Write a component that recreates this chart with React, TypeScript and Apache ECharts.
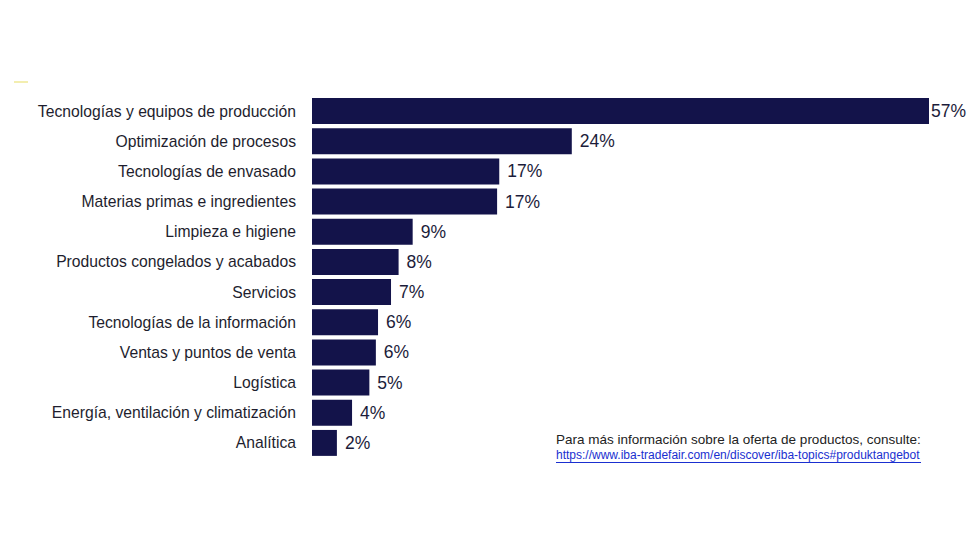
import React, { useEffect, useRef } from "react";
import * as echarts from "echarts";

const categories = [
  "Tecnologías y equipos de producción",
  "Optimización de procesos",
  "Tecnologías de envasado",
  "Materias primas e ingredientes",
  "Limpieza e higiene",
  "Productos congelados y acabados",
  "Servicios",
  "Tecnologías de la información",
  "Ventas y puntos de venta",
  "Logística",
  "Energía, ventilación y climatización",
  "Analítica",
];
const values = [57, 24, 17.3, 17.1, 9.3, 8, 7.3, 6.1, 5.9, 5.3, 3.7, 2.3];
const valueLabels = ["57%", "24%", "17%", "17%", "9%", "8%", "7%", "6%", "6%", "5%", "4%", "2%"];
const noteLine1 = "Para más información sobre la oferta de productos, consulte:";
const noteLine2 = "https://www.iba-tradefair.com/en/discover/iba-topics#produktangebot";

export default function App() {
  const ref = useRef<HTMLDivElement>(null);
  useEffect(() => {
    document.body.style.margin = "0";
    if (!ref.current) return;
    const chart = echarts.init(ref.current, undefined, { renderer: "svg" });
    const font = "Liberation Sans, Arial, sans-serif";
    chart.setOption({
      animation: false,
      backgroundColor: "#ffffff",
      textStyle: { fontFamily: font },
      grid: { left: 312, right: 51, top: 96, height: 362 },
      xAxis: { type: "value", min: 0, max: 57, show: false },
      yAxis: {
        type: "category",
        data: categories,
        inverse: true,
        axisLine: { show: false },
        axisTick: { show: false },
        axisLabel: { color: "#1e1e2e", fontSize: 15.7, margin: 16 },
      },
      series: [
        {
          type: "bar",
          data: values.map((v, i) => (i === 0 ? { value: v, label: { distance: 2 } } : v)),
          barCategoryGap: "14%",
          itemStyle: { color: "#13134a" },
          label: {
            show: true,
            position: "right",
            distance: 8,
            fontSize: 17.5,
            color: "#1c1c3a",
            formatter: (p: any) => valueLabels[p.dataIndex],
          },
        },
      ],
      graphic: [
        { type: "line", shape: { x1: 14, y1: 82, x2: 28, y2: 82 }, style: { stroke: "#f3eeb0", lineWidth: 2 } },
        { type: "text", left: 556, top: 432, style: { text: noteLine1, fontSize: 13.5, fill: "#222222", fontFamily: font } },
        { type: "text", left: 556, top: 449, style: { text: noteLine2, fontSize: 12, fill: "#1a2fd0", fontFamily: font } },
        { type: "line", shape: { x1: 556, y1: 462.5, x2: 921, y2: 462.5 }, style: { stroke: "#1a2fd0", lineWidth: 1 } },
      ],
    });
    return () => chart.dispose();
  }, []);
  return <div ref={ref} style={{ width: 980, height: 560 }} />;
}
